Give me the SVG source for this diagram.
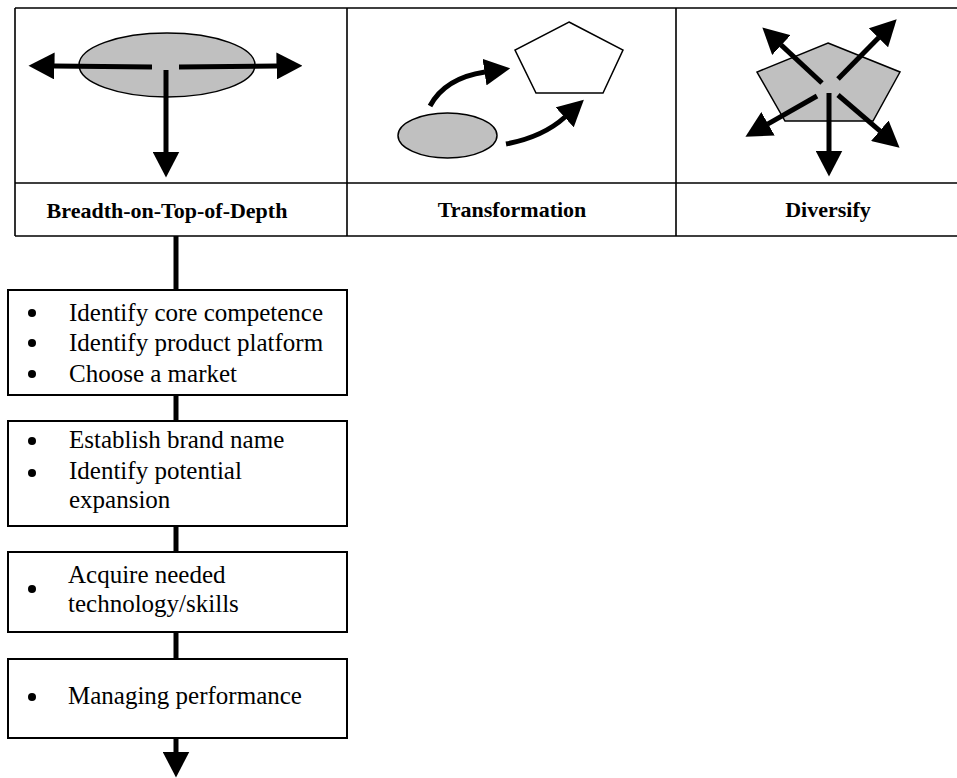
<svg xmlns="http://www.w3.org/2000/svg" width="957" height="778" viewBox="0 0 957 778">
  <style>
    .grid { stroke: #000; stroke-width: 1.6; fill: none; }
    .box { fill: #fff; stroke: #000; stroke-width: 2; }
    .shape { stroke: #000; stroke-width: 1.5; }
    .gray { fill: #c0c0c0; }
    .white { fill: #fff; }
    .arrow { stroke: #000; stroke-width: 5; fill: none; marker-end: url(#head); }
    .link { stroke: #000; stroke-width: 5; fill: none; }
    .label { font-family: "Liberation Serif", "Times New Roman", serif; font-weight: bold; font-size: 22px; text-anchor: middle; fill: #000; }
    .item { font-family: "Liberation Serif", "Times New Roman", serif; font-size: 25px; fill: #000; }
    .bullet { fill: #000; }
  </style>
  <defs>
    <marker id="head" markerUnits="userSpaceOnUse" viewBox="0 0 26 27" markerWidth="26" markerHeight="27" refX="0.5" refY="13.5" orient="auto">
      <path d="M0,0 L26,13.5 L0,27 Z" fill="#000"/>
    </marker>
  </defs>

  <rect width="957" height="778" fill="#fff"/>

  <!-- strategy table -->
  <g id="table">
    <path class="grid" d="M15,8 H960 M15,183 H960 M15,236 H960 M15,8 V236 M347,8 V236 M676,8 V236"/>
  </g>

  <!-- cell 1: breadth on top of depth -->
  <g id="breadth-on-top-of-depth">
    <ellipse class="shape gray" cx="167" cy="65" rx="88" ry="32"/>
    <line class="arrow" x1="152" y1="67" x2="54" y2="66"/>
    <line class="arrow" x1="179" y1="67" x2="277" y2="66"/>
    <line class="arrow" x1="166" y1="70" x2="166" y2="152"/>
    <text class="label" x="167" y="218">Breadth-on-Top-of-Depth</text>
  </g>

  <!-- cell 2: transformation -->
  <g id="transformation">
    <polygon class="shape white" points="569,22 623,50 603,93 536,93 515,50"/>
    <ellipse class="shape gray" cx="447.5" cy="135.5" rx="49.5" ry="22.5"/>
    <path class="arrow" d="M430,106 Q445,78 485,72"/>
    <path class="arrow" d="M506,144 Q543,137 565,117"/>
    <text class="label" x="512" y="217">Transformation</text>
  </g>

  <!-- cell 3: diversify -->
  <g id="diversify">
    <polygon class="shape gray" points="828,43 900,72 873,121 785,121 757,72"/>
    <line class="arrow" x1="822" y1="83" x2="781" y2="44.8"/>
    <line class="arrow" x1="838" y1="79" x2="878.8" y2="37.5"/>
    <line class="arrow" x1="817" y1="96" x2="767.6" y2="124.1"/>
    <line class="arrow" x1="829" y1="93" x2="829" y2="151"/>
    <line class="arrow" x1="838" y1="95" x2="880.2" y2="131.1"/>
    <text class="label" x="828" y="217">Diversify</text>
  </g>

  <!-- connectors of the step chain -->
  <g id="connectors">
    <line class="link" x1="176" y1="236" x2="176" y2="290"/>
    <line class="link" x1="176" y1="395" x2="176" y2="421"/>
    <line class="link" x1="176" y1="526" x2="176" y2="552"/>
    <line class="link" x1="176" y1="632" x2="176" y2="659"/>
    <line class="arrow" x1="176" y1="738" x2="176" y2="752"/>
  </g>

  <!-- step 1 -->
  <g id="step-1">
    <rect class="box" x="8" y="290" width="339" height="105"/>
    <circle class="bullet" cx="32" cy="313" r="4"/>
    <circle class="bullet" cx="32" cy="343" r="4"/>
    <circle class="bullet" cx="32" cy="374" r="4"/>
    <text class="item" x="69" y="321">Identify core competence</text>
    <text class="item" x="69" y="351">Identify product platform</text>
    <text class="item" x="69" y="382">Choose a market</text>
  </g>

  <!-- step 2 -->
  <g id="step-2">
    <rect class="box" x="8" y="421" width="339" height="105"/>
    <circle class="bullet" cx="32" cy="441" r="4"/>
    <circle class="bullet" cx="32" cy="473" r="4"/>
    <text class="item" x="69" y="448">Establish brand name</text>
    <text class="item" x="69" y="479">Identify potential</text>
    <text class="item" x="69" y="508">expansion</text>
  </g>

  <!-- step 3 -->
  <g id="step-3">
    <rect class="box" x="8" y="552" width="339" height="80"/>
    <circle class="bullet" cx="32" cy="589" r="4"/>
    <text class="item" x="68" y="583">Acquire needed</text>
    <text class="item" x="68" y="612">technology/skills</text>
  </g>

  <!-- step 4 -->
  <g id="step-4">
    <rect class="box" x="8" y="659" width="339" height="79"/>
    <circle class="bullet" cx="32" cy="697" r="4"/>
    <text class="item" x="68" y="704">Managing performance</text>
  </g>
</svg>
